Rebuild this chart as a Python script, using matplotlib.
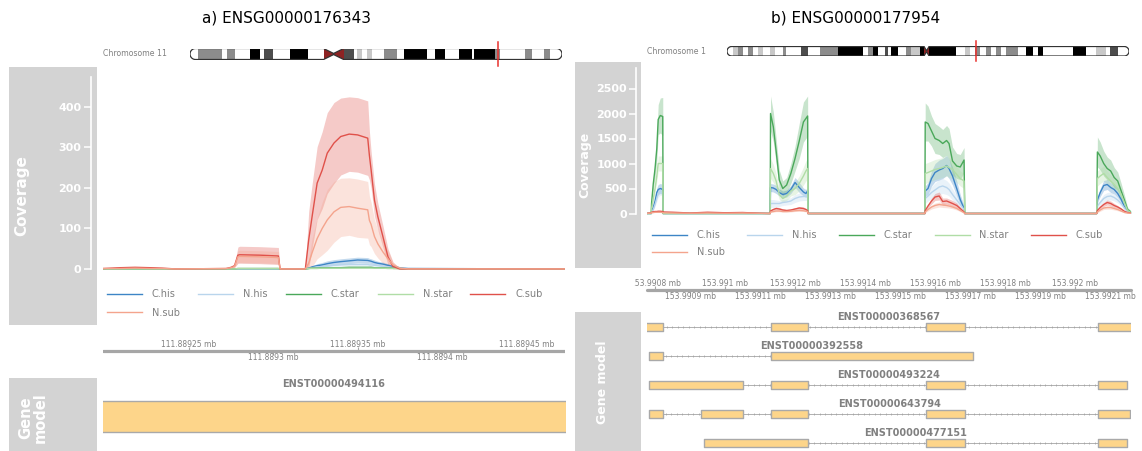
import numpy as np
import matplotlib
matplotlib.use("Agg")
import matplotlib.pyplot as plt
from matplotlib.patches import Polygon

# ---- data -----------------------------------------------------------------
series_names = ["C.his", "N.his", "C.star", "N.star", "C.sub", "N.sub"]
series_colors = ["#3D85C6", "#B9D5EC", "#4AA85A", "#B0DDA6", "#E0514A", "#F4A48D"]

# a) ENSG00000176343, chr11 (positions = a_base + offset, bp)
a_base = 111889000
a_xlim = (111889199, 111889473)
a_off = [199, 209, 218, 227, 234, 242, 272, 275, 277, 279, 280, 292, 303, 304, 319,
         321, 323, 326, 329, 332, 336, 340, 345, 350, 356, 357, 358, 360, 362, 365,
         368, 371, 375, 380, 473]
a_chis = [0, 0, 0, 0, 0, 0, 0, 0, 0, 0, 0, 0, 0, 0, 0,
          2, 5, 8, 10, 13, 16, 18, 20, 22, 21, 20, 19, 16, 14, 12, 9, 6, 3, 1, 0]
a_chis_sd = [0, 0, 0, 0, 0, 0, 0, 0, 0, 0, 0, 0, 0, 0, 0,
             1, 3, 5, 6, 7, 7, 7, 7, 7, 7, 6, 6, 6, 5, 5, 4, 3, 2, 1, 0]
a_nhis = [0, 0, 0, 0, 0, 0, 0, 0, 0, 0, 0, 0, 0, 0, 0,
          1, 3, 5, 6, 8, 9, 10, 11, 11, 11, 10, 10, 9, 8, 6, 5, 3, 2, 1, 0]
a_nhis_sd = [0, 0, 0, 0, 0, 0, 0, 0, 0, 0, 0, 0, 0, 0, 0,
             0, 1, 2, 3, 3, 4, 4, 4, 4, 4, 4, 4, 3, 3, 3, 2, 2, 1, 0, 0]
a_cstar = [0, 0, 0, 0, 0, 0, 0, 0, 0, 1, 1, 1, 1, 0, 0,
           1, 2, 2, 3, 3, 3, 3, 4, 4, 4, 4, 4, 3, 3, 3, 2, 2, 1, 0, 0]
a_cstar_sd = [0, 0, 0, 0, 0, 0, 0, 0, 0, 0, 0, 0, 0, 0, 0,
              0, 1, 1, 1, 1, 1, 1, 1, 1, 1, 1, 1, 1, 1, 1, 1, 1, 0, 0, 0]
a_nstar = [0, 0, 0, 0, 0, 0, 0, 0, 0, 1, 1, 1, 1, 0, 0,
           1, 1, 1, 2, 2, 2, 2, 2, 2, 2, 2, 2, 2, 2, 2, 1, 1, 1, 0, 0]
a_nstar_sd = [0, 0, 0, 0, 0, 0, 0, 0, 0, 0, 0, 0, 0, 0, 0,
              0, 0, 0, 1, 1, 1, 1, 1, 1, 1, 1, 1, 1, 1, 1, 0, 0, 0, 0, 0]
a_csub = [1, 3, 4, 3, 2, 0, 1, 4, 8, 34, 35, 34, 32, 0, 0,
          72, 129, 212, 244, 286, 311, 327, 333, 331, 323, 280, 245, 170, 129, 80,
          30, 6, 0, 0, 0]
a_csub_sd = [1, 2, 2, 2, 1, 0, 1, 2, 4, 20, 21, 21, 21, 0, 0,
             70, 80, 90, 95, 100, 100, 95, 92, 92, 92, 60, 45, 40, 33, 27, 20, 11, 2, 0, 0]
a_nsub = [1, 1, 2, 1, 1, 0, 1, 3, 6, 30, 31, 30, 28, 0, 0,
          14, 40, 75, 100, 121, 141, 152, 154, 150, 146, 120, 110, 80, 62, 42,
          25, 10, 2, 0, 0]
a_nsub_sd = [0, 1, 1, 1, 0, 0, 1, 2, 3, 15, 15, 15, 15, 0, 0,
             8, 35, 50, 65, 75, 75, 72, 71, 72, 70, 60, 55, 42, 35, 28, 20, 6, 1, 0, 0]
a_yticks = [0, 100, 200, 300, 400]
a_ticks_top = [111889250, 111889350, 111889450]
a_ticks_bottom = [111889300, 111889400]
a_tx_names = ["ENST00000494116"]
a_tx_starts = [[111889150]]
a_tx_ends = [[111889500]]

# b) ENSG00000177954, chr1
b_base = 153990800
b_xlim = (153990777, 153992160)
b_off = [-25, -11, -10, -5, 0, 5, 9, 15, 22, 23,
         50, 100, 150, 200, 250, 300, 328,
         329, 330, 338, 346, 355, 365, 376, 388, 400, 412, 424, 431, 436, 437,
         771, 772, 780, 790, 800, 812, 822, 833, 840, 850, 862, 872, 883, 885,
         1262, 1264, 1272, 1282, 1292, 1302, 1312, 1322, 1332, 1342, 1350, 1360]
b_chis = [0, 0, 50, 120, 250, 420, 480, 500, 480, 0,
          0, 0, 0, 0, 0, 0, 0,
          0, 520, 510, 480, 420, 380, 400, 480, 620, 520, 430, 400, 450, 0,
          0, 450, 500, 700, 820, 870, 900, 960, 900, 750, 500, 280, 100, 0,
          0, 270, 420, 560, 580, 520, 480, 400, 280, 120, 50, 20]
b_chis_sd = [0, 0, 20, 40, 60, 90, 100, 100, 100, 0,
             0, 0, 0, 0, 0, 0, 0,
             0, 80, 80, 80, 70, 70, 70, 80, 100, 100, 80, 80, 80, 0,
             0, 100, 120, 150, 180, 200, 200, 200, 200, 180, 150, 100, 50, 0,
             0, 60, 80, 100, 100, 100, 90, 80, 60, 40, 20, 10]
b_nhis = [0, 0, 30, 80, 180, 300, 400, 450, 430, 0,
          0, 0, 0, 0, 0, 0, 0,
          0, 200, 200, 200, 200, 220, 230, 250, 300, 330, 340, 340, 350, 0,
          0, 300, 350, 420, 470, 530, 550, 520, 480, 380, 270, 180, 80, 0,
          0, 150, 220, 300, 340, 350, 320, 270, 200, 100, 40, 10]
b_nhis_sd = [0, 0, 10, 20, 40, 60, 80, 80, 80, 0,
             0, 0, 0, 0, 0, 0, 0,
             0, 80, 80, 70, 60, 60, 60, 70, 80, 80, 80, 80, 80, 0,
             0, 100, 100, 120, 140, 150, 150, 140, 130, 110, 90, 70, 40, 0,
             0, 50, 60, 80, 80, 80, 70, 60, 50, 30, 15, 5]
b_cstar = [0, 0, 200, 600, 900, 1300, 1880, 1960, 1940, 0,
           0, 0, 0, 0, 0, 0, 0,
           0, 2000, 1730, 1250, 670, 500, 570, 800, 1100, 1450, 1830, 1900, 1950, 0,
           0, 1830, 1800, 1650, 1500, 1460, 1400, 1460, 1400, 1050, 950, 930, 1070, 0,
           0, 1230, 1150, 1000, 900, 850, 720, 650, 450, 250, 80, 30]
b_cstar_sd = [0, 0, 60, 120, 180, 250, 300, 350, 380, 0,
              0, 0, 0, 0, 0, 0, 0,
              0, 350, 300, 250, 200, 150, 150, 200, 250, 350, 400, 400, 400, 0,
              0, 380, 350, 300, 300, 280, 280, 300, 300, 280, 250, 250, 250, 0,
              0, 300, 280, 250, 230, 220, 200, 180, 150, 100, 50, 20]
b_nstar = [0, 0, 100, 300, 500, 750, 1000, 1000, 1000, 0,
           0, 0, 0, 0, 0, 0, 0,
           0, 900, 800, 650, 380, 300, 350, 450, 500, 600, 750, 850, 900, 0,
           0, 800, 820, 850, 880, 900, 920, 950, 920, 880, 780, 700, 650, 0,
           0, 700, 750, 800, 720, 650, 580, 500, 380, 200, 60, 20]
b_nstar_sd = [0, 0, 30, 60, 80, 100, 150, 150, 150, 0,
              0, 0, 0, 0, 0, 0, 0,
              0, 200, 180, 150, 100, 80, 90, 100, 120, 150, 180, 200, 200, 0,
              0, 200, 200, 200, 200, 200, 200, 200, 200, 180, 160, 150, 150, 0,
              0, 150, 150, 150, 130, 120, 110, 100, 80, 50, 20, 10]
b_csub = [0, 15, 25, 35, 40, 40, 45, 45, 40, 30,
          25, 10, 25, 15, 20, 5, 0,
          0, 50, 80, 100, 90, 70, 60, 70, 90, 110, 100, 80, 60, 0,
          0, 60, 150, 250, 330, 350, 240, 250, 230, 200, 160, 100, 30, 0,
          0, 60, 120, 180, 220, 200, 160, 130, 90, 40, 20, 10]
b_csub_sd = [0, 5, 10, 10, 10, 10, 10, 10, 10, 5,
             5, 5, 5, 5, 5, 2, 0,
             0, 20, 25, 30, 30, 25, 20, 20, 25, 30, 30, 25, 20, 0,
             0, 20, 40, 60, 70, 80, 70, 60, 60, 60, 50, 30, 10, 0,
             0, 20, 30, 40, 50, 50, 40, 30, 20, 10, 5, 2]
b_nsub = [0, 10, 15, 20, 25, 25, 25, 25, 20, 15,
          10, 5, 10, 5, 10, 3, 0,
          0, 30, 40, 50, 50, 40, 40, 45, 55, 60, 55, 45, 40, 0,
          0, 30, 80, 130, 160, 180, 170, 160, 150, 130, 100, 60, 15, 0,
          0, 30, 70, 110, 120, 120, 100, 80, 50, 20, 10, 5]
b_nsub_sd = [0, 3, 5, 5, 5, 5, 5, 5, 5, 3,
             3, 2, 3, 2, 3, 1, 0,
             0, 10, 15, 15, 15, 15, 15, 15, 15, 15, 15, 15, 10, 0,
             0, 15, 30, 40, 50, 50, 50, 45, 40, 35, 30, 20, 5, 0,
             0, 15, 25, 30, 35, 35, 30, 25, 15, 8, 4, 2]
b_yticks = [0, 500, 1000, 1500, 2000, 2500]
b_ticks_top = [153990800, 153991000, 153991200, 153991400, 153991600, 153991800, 153992000]
b_ticks_bottom = [153990900, 153991100, 153991300, 153991500, 153991700, 153991900, 153992100]
b_tx_names = ["ENST00000368567", "ENST00000392558", "ENST00000493224",
              "ENST00000643794", "ENST00000477151"]
b_tx_exon_off = [
    [(-30, 23), (330, 438), (773, 887), (1265, 1400)],
    [(-17, 23), (330, 909)],
    [(-17, 251), (330, 438), (773, 887), (1265, 1349)],
    [(-17, 23), (131, 251), (330, 438), (773, 887), (1265, 1357)],
    [(140, 438), (773, 887), (1265, 1349)],
]

# ideogram bands (Mb)
chr11_length, chr11_cen = 135.1, (48.5, 55.8)
chr11_band_start = [3.0, 13.3, 21.8, 26.7, 36.4, 55.8, 60.6, 64.2, 70.3, 77.6, 89.1,
                    97.6, 103.0, 110.9, 121.8, 128.5]
chr11_band_end = [11.5, 16.4, 25.5, 30.3, 43.0, 59.4, 62.4, 66.1, 75.1, 86.1, 92.7,
                  102.4, 110.9, 112.7, 124.2, 130.9]
chr11_band_stain = ["gpos50", "gpos50", "gpos100", "gpos75", "gpos100", "gpos75", "gpos25",
                    "gpos25", "gpos50", "gpos100", "gpos100", "gpos100", "gpos100", "gpos50",
                    "gpos50", "gpos50"]
chr1_length, chr1_cen = 248.9, (122.0, 125.1)
chr1_band_start = [3.7, 6.8, 13.0, 19.2, 26.4, 34.7, 46.0, 57.4, 68.7, 87.3, 90.4, 97.6,
                   101.8, 111.0, 114.1, 119.3, 125.1, 147.2, 153.4, 160.6, 166.8, 173.0,
                   185.3, 192.6, 214.2, 228.7, 236.9]
chr1_band_end = [6.8, 9.9, 16.1, 22.3, 29.5, 36.7, 50.2, 68.7, 84.2, 90.4, 93.5, 99.7,
                 105.9, 114.1, 119.3, 122.0, 142.0, 150.3, 156.4, 163.7, 169.9, 180.2,
                 189.5, 195.7, 222.5, 234.9, 242.1]
chr1_band_stain = ["gpos25", "gpos50", "gpos50", "gpos25", "gpos25", "gpos50", "gpos75",
                   "gpos50", "gpos100", "gpos50", "gpos100", "gpos75", "gpos100", "gpos50",
                   "gpos25", "gpos100", "gpos100", "gpos25", "gpos50", "gpos50", "gpos50",
                   "gpos50", "gpos100", "gpos100", "gpos100", "gpos25", "gpos75"]
stain_colors = {"gpos25": "#C8C8C8", "gpos50": "#8C8C8C", "gpos75": "#4D4D4D",
                "gpos100": "#000000"}

# ---- layout helpers ---------------------------------------------------------
W, H = 1142, 451
PANEL_GREY = "#D3D3D3"
TEXT_GREY = "#808080"
fig = plt.figure(figsize=(W / 100, H / 100), dpi=100)


def px_axes(x0, y0, x1, y1):
    return fig.add_axes([x0 / W, 1 - y1 / H, (x1 - x0) / W, (y1 - y0) / H])


def title_panel(box, text, xfrac, size, yfrac=0.5, linespacing=1.0):
    ax = px_axes(*box)
    ax.set_facecolor(PANEL_GREY)
    ax.set_xticks([])
    ax.set_yticks([])
    for s in ax.spines.values():
        s.set_visible(False)
    ax.text(xfrac, yfrac, text, rotation=90, color="white", fontweight="bold",
            fontsize=size, ha="center", va="center", transform=ax.transAxes,
            linespacing=linespacing)


def ideogram(box, length, cen, starts, ends, stains, marker):
    ax = px_axes(*box)
    ax.set_xlim(0, length)
    ax.set_ylim(0, 1)
    ax.axis("off")
    rx = (box[3] - box[1]) / 2 * length / (box[2] - box[0])
    mid = (cen[0] + cen[1]) / 2
    t = np.linspace(np.pi / 2, 3 * np.pi / 2, 20)
    left = np.column_stack([rx + rx * np.cos(t), 0.5 + 0.5 * np.sin(t)])
    t2 = np.linspace(-np.pi / 2, np.pi / 2, 20)
    right = np.column_stack([length - rx + rx * np.cos(t2), 0.5 + 0.5 * np.sin(t2)])
    pts = np.vstack([left, [[cen[0], 0], [mid, 0.45], [cen[1], 0]], right,
                     [[cen[1], 1], [mid, 0.55], [cen[0], 1]]])
    shape = Polygon(pts, closed=True, fc="white", ec="none")
    ax.add_patch(shape)
    bars = ax.bar(starts, 1, width=np.subtract(ends, starts), bottom=0, align="edge",
                  color=[stain_colors[s] for s in stains], lw=0)
    for b in bars:
        b.set_clip_path(shape)
    cb = ax.bar([cen[0]], 1, width=[cen[1] - cen[0]], bottom=0, align="edge",
                color="#8E2323", lw=0)
    cb[0].set_clip_path(shape)
    ax.add_patch(Polygon(pts, closed=True, fc="none", ec="#333333", lw=0.9))
    ax.axvline(marker, ymin=-0.55, ymax=1.55, color="#E8302C", lw=1.1, clip_on=False)


def coverage(box, pos, vals, sds, xlim, ylim, yticks, outward, legend_xy, colspace, lsp):
    ax = px_axes(*box)
    ax.patch.set_alpha(0)
    for v, sd, c in zip(vals, sds, series_colors):
        v = np.asarray(v, float)
        sd = np.asarray(sd, float)
        ax.fill_between(pos, np.clip(v - sd, 0, None), v + sd, color=c, alpha=0.3, lw=0)
    lines = []
    for v, c, n in zip(vals, series_colors, series_names):
        ln, = ax.plot(pos, v, color=c, lw=1.0, label=n)
        lines.append(ln)
    ax.set_xlim(xlim)
    ax.set_ylim(ylim)
    for s in ("top", "right", "bottom"):
        ax.spines[s].set_visible(False)
    ax.spines["left"].set_position(("outward", outward))
    ax.spines["left"].set_color("white")
    ax.spines["left"].set_linewidth(1.2)
    ax.spines["left"].set_bounds(0, ylim[1])
    ax.set_xticks([])
    ax.set_yticks(yticks)
    ax.tick_params(axis="y", colors="white", length=5, width=1.1, pad=1.5, labelsize=8)
    for lbl in ax.get_yticklabels():
        lbl.set_fontweight("bold")
    # legend fills columns first: reorder so the 6th entry lands on row 2
    order = [0, 5, 1, 2, 3, 4]
    ax.legend([lines[i] for i in order], [series_names[i] for i in order], ncol=5,
              loc="upper left", bbox_to_anchor=(legend_xy[0] / W, 1 - legend_xy[1] / H),
              bbox_transform=fig.transFigure, frameon=False, fontsize=7,
              handlelength=3.6, handletextpad=1.0, columnspacing=colspace,
              labelspacing=lsp, borderpad=0, borderaxespad=0, labelcolor=TEXT_GREY)
    return ax


def mb_label(t):
    return f"{t / 1e6:.7f}".rstrip("0").rstrip(".") + " mb"


def genome_axis(box, line_x, xlim, top, bottom):
    ax = px_axes(*box)
    ax.set_xlim(xlim)
    ax.set_ylim(-1, 1)
    ax.axis("off")
    ax.plot(line_x, [0, 0], color="#A6A6A6", lw=2.3, solid_capstyle="round")
    ax.vlines(top, 0, 0.3, color="#A6A6A6", lw=0.8)
    ax.vlines(bottom, -0.3, 0, color="#A6A6A6", lw=0.8)
    for t in top:
        ax.text(t, 0.45, mb_label(t), ha="center", va="center", fontsize=5.5,
                color=TEXT_GREY, clip_on=True)
    for t in bottom:
        ax.text(t, -0.45, mb_label(t), ha="center", va="center", fontsize=5.5,
                color=TEXT_GREY, clip_on=True)


def gene_model(box, xlim, names, exons, row0_y, pitch, box_px, label_px):
    ax = px_axes(*box)
    ax.set_xlim(xlim)
    ax.set_ylim((box[3] - row0_y) / pitch, (box[1] - row0_y) / pitch)
    ax.axis("off")
    bh = box_px / pitch
    for i, (name, ex) in enumerate(zip(names, exons)):
        s0 = min(e[0] for e in ex)
        e1 = max(e[1] for e in ex)
        if len(ex) > 1:
            ax.plot([s0, e1], [i, i], color="#B0B0B0", lw=0.7, zorder=1)
            marks = np.arange(s0, e1, (xlim[1] - xlim[0]) / 88)
            ax.plot(marks, np.full(len(marks), i), ls="none", marker="|", ms=1.8,
                    mew=0.5, color="#A0A0A0", zorder=1)
        ax.broken_barh([(a, b - a) for a, b in ex], (i - bh / 2, bh),
                       facecolors="#FDD58A", edgecolors="#A9A9A9", lw=1.0, zorder=2)
        cx = (max(s0, xlim[0]) + min(e1, xlim[1])) / 2
        ax.text(cx, i + label_px / pitch, name, ha="center", va="center", fontsize=7,
                fontweight="bold", color=TEXT_GREY)


# ---- panel a ---------------------------------------------------------------
fig.text(287 / W, 1 - 18 / H, "a) ENSG00000176343", ha="center", va="center", fontsize=11)
fig.text(167 / W, 1 - 54 / H, "Chromosome 11", ha="right", va="center", fontsize=5.6,
         color=TEXT_GREY)
ideogram((190, 48.5, 562, 59.5), chr11_length, chr11_cen, chr11_band_start,
         chr11_band_end, chr11_band_stain, np.mean(a_xlim) / 1e6)
title_panel((9, 67, 97, 325), "Coverage", 0.14, 11)
a_pos = a_base + np.array(a_off)
coverage((103, 77, 565, 275), a_pos,
         [a_chis, a_nhis, a_cstar, a_nstar, a_csub, a_nsub],
         [a_chis_sd, a_nhis_sd, a_cstar_sd, a_nstar_sd, a_csub_sd, a_nsub_sd],
         a_xlim, (-15, 474), a_yticks, 9, (107, 289), 1.9, 0.9)
genome_axis((103, 337, 565, 365), a_xlim, a_xlim, a_ticks_top, a_ticks_bottom)
title_panel((9, 378, 97, 452), "Gene\nmodel", 0.27, 10.5, yfrac=0.46, linespacing=0.95)
gene_model((103, 378, 565, 451), a_xlim, a_tx_names,
           [list(zip(s, e)) for s, e in zip(a_tx_starts, a_tx_ends)],
           416.5, 73, 31, -32.5)

# ---- panel b ---------------------------------------------------------------
fig.text(856 / W, 1 - 18 / H, "b) ENSG00000177954", ha="center", va="center", fontsize=11)
fig.text(706 / W, 1 - 51.5 / H, "Chromosome 1", ha="right", va="center", fontsize=5.6,
         color=TEXT_GREY)
ideogram((727, 46.5, 1129, 56), chr1_length, chr1_cen, chr1_band_start,
         chr1_band_end, chr1_band_stain, np.mean(b_xlim) / 1e6)
title_panel((575, 62, 641, 268), "Coverage", 0.15, 9)
b_pos = b_base + np.array(b_off)
coverage((647, 68, 1131, 219), b_pos,
         [b_chis, b_nhis, b_cstar, b_nstar, b_csub, b_nsub],
         [b_chis_sd, b_nhis_sd, b_cstar_sd, b_nstar_sd, b_csub_sd, b_nsub_sd],
         b_xlim, (-110, 2910), b_yticks, 8, (652, 230), 2.3, 0.75)
bp_per_px = (b_xlim[1] - b_xlim[0]) / (1131 - 647)
genome_axis((634, 276, 1142, 304), b_xlim,
            (b_xlim[0] - 13 * bp_per_px, b_xlim[1] + 11 * bp_per_px),
            b_ticks_top, b_ticks_bottom)
title_panel((575, 312, 641, 452), "Gene model", 0.42, 9)
gene_model((647, 312, 1131, 451), b_xlim, b_tx_names,
           [[(b_base + s, b_base + e) for s, e in ex] for ex in b_tx_exon_off],
           327, 29, 8, -10)

fig.savefig("out.png", dpi=100)
